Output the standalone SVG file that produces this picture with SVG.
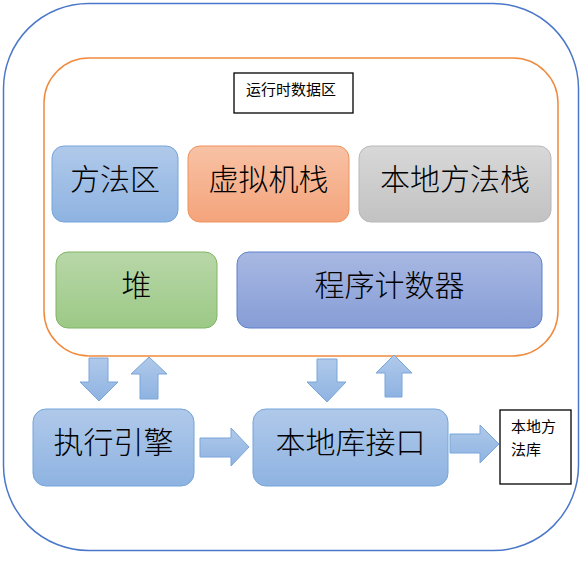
<svg xmlns="http://www.w3.org/2000/svg" width="587" height="561" viewBox="0 0 587 561">
<defs>
<linearGradient id="gBlue" x1="0" y1="0" x2="0" y2="1"><stop offset="0" stop-color="#b0c9ea"/><stop offset="1" stop-color="#8eb3e1"/></linearGradient>
<linearGradient id="gOrange" x1="0" y1="0" x2="0" y2="1"><stop offset="0" stop-color="#f8c2a5"/><stop offset="1" stop-color="#f4a47b"/></linearGradient>
<linearGradient id="gGray" x1="0" y1="0" x2="0" y2="1"><stop offset="0" stop-color="#d8d8d8"/><stop offset="1" stop-color="#c2c2c2"/></linearGradient>
<linearGradient id="gGreen" x1="0" y1="0" x2="0" y2="1"><stop offset="0" stop-color="#b8d7a8"/><stop offset="1" stop-color="#9cc986"/></linearGradient>
<linearGradient id="gPurple" x1="0" y1="0" x2="0" y2="1"><stop offset="0" stop-color="#a8b8e2"/><stop offset="1" stop-color="#869dd6"/></linearGradient>
<linearGradient id="gArrow" x1="0" y1="0" x2="0" y2="1"><stop offset="0" stop-color="#b0c9ea"/><stop offset="1" stop-color="#8eb3e1"/></linearGradient>
</defs>
<style>
.big{font-family:"Noto Sans CJK SC","DejaVu Sans",sans-serif;font-size:30px;fill:#000;text-anchor:middle;font-weight:300}
.small{font-family:"Noto Sans CJK SC","DejaVu Sans",sans-serif;font-size:15px;fill:#000}
.arrow{fill:url(#gArrow);stroke:#7ba6da;stroke-width:1}
.label{fill:#fff;stroke:#000;stroke-width:1.3}
</style>
<rect id="outer" x="3.5" y="3.5" width="575" height="547" rx="85" ry="85" fill="none" stroke="#4a77c9" stroke-width="1.5"/>
<g id="runtime">
<rect x="44" y="58" width="514" height="298" rx="45" ry="45" fill="none" stroke="#f08a3e" stroke-width="1.5"/>
<rect class="label" x="234" y="73" width="119" height="40"/>
<text class="small" x="246" y="95">运行时数据区</text>
</g>
<g id="method-area">
<rect x="52" y="146" width="126" height="76" rx="12" fill="url(#gBlue)" stroke="#75a5da" stroke-width="1"/>
<text class="big" x="115" y="190">方法区</text>
</g>
<g id="vm-stack">
<rect x="188" y="146" width="161" height="76" rx="12" fill="url(#gOrange)" stroke="#f0915a" stroke-width="1"/>
<text class="big" x="268.5" y="190">虚拟机栈</text>
</g>
<g id="native-stack">
<rect x="359" y="146" width="192" height="76" rx="12" fill="url(#gGray)" stroke="#b8b8b8" stroke-width="1"/>
<text class="big" x="455" y="190">本地方法栈</text>
</g>
<g id="heap">
<rect x="56" y="252" width="161" height="76" rx="12" fill="url(#gGreen)" stroke="#80b463" stroke-width="1"/>
<text class="big" x="136.5" y="296">堆</text>
</g>
<g id="pc">
<rect x="237" y="252" width="305" height="76" rx="12" fill="url(#gPurple)" stroke="#5c80cc" stroke-width="1"/>
<text class="big" x="389.5" y="296">程序计数器</text>
</g>
<g id="engine">
<rect x="33" y="409" width="161" height="77" rx="13" fill="url(#gBlue)" stroke="#75a5da" stroke-width="1"/>
<text class="big" x="113.5" y="453">执行引擎</text>
</g>
<g id="native-interface">
<rect x="253" y="409" width="195" height="77" rx="13" fill="url(#gBlue)" stroke="#75a5da" stroke-width="1"/>
<text class="big" x="350.5" y="453">本地库接口</text>
</g>
<g id="native-lib">
<rect class="label" x="500" y="410" width="71" height="74"/>
<text class="small" x="511" y="432">本地方</text>
<text class="small" x="511" y="455">法库</text>
</g>
<g id="connectors">
<path class="arrow" d="M89,358 H108 V382 H118 L99,401 L80,382 H89 Z"/>
<path class="arrow" d="M149,357 L167,374 H158 V399 H140 V374 H131 Z"/>
<path class="arrow" d="M200,438 H231 V428 L249,447 L231,466 V457 H200 Z"/>
<path class="arrow" d="M317,359 H337 V382 H346 L327,402 L307,382 H317 Z"/>
<path class="arrow" d="M394,355 L412,373 H402 V397 H385 V373 H376 Z"/>
<path class="arrow" d="M450,434 H480 V425 L499,444 L480,463 V453 H450 Z"/>
</g>
</svg>
